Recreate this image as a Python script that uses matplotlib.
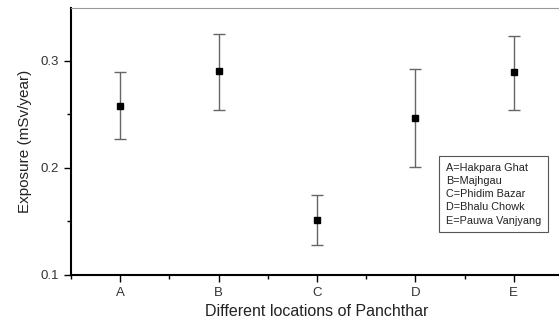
import matplotlib.pyplot as plt
from matplotlib.ticker import MultipleLocator

plt.rcParams['font.family'] = ['Liberation Sans', 'DejaVu Sans']

sites = ['A', 'B', 'C', 'D', 'E']
exposure = [0.258, 0.290, 0.151, 0.246, 0.289]
upper = [0.289, 0.325, 0.175, 0.292, 0.323]
lower = [0.227, 0.254, 0.128, 0.201, 0.254]
legend_lines = ['A=Hakpara Ghat', 'B=Majhgau', 'C=Phidim Bazar',
                'D=Bhalu Chowk', 'E=Pauwa Vanjyang']

x = range(1, len(sites) + 1)
err_lo = [e - l for e, l in zip(exposure, lower)]
err_hi = [u - e for e, u in zip(exposure, upper)]

fig = plt.figure(figsize=(5.59, 3.22), dpi=100)
ax = fig.add_axes([0.127, 0.146, 0.88, 0.829])

ax.errorbar(x, exposure, yerr=[err_lo, err_hi], fmt='s', color='black',
            ms=5, ecolor='#666666', elinewidth=1.0, capsize=4, capthick=1.0)

ax.set_xlim(0.5, 5.5)
ax.set_ylim(0.1, 0.349)
ax.set_xticks(list(x))
ax.set_xticklabels(sites)
ax.xaxis.set_minor_locator(MultipleLocator(0.5))
ax.yaxis.set_major_locator(MultipleLocator(0.1))
ax.yaxis.set_minor_locator(MultipleLocator(0.05))
ax.tick_params(which='major', direction='out', length=5, width=1,
               labelsize=9.5, labelcolor='#333333')
ax.tick_params(which='minor', direction='out', length=3, width=1)

for side in ['left', 'bottom']:
    ax.spines[side].set_linewidth(1.5)
ax.spines['top'].set_color('#999999')
ax.spines['top'].set_linewidth(0.8)
ax.spines['right'].set_visible(False)

ax.set_xlabel('Different locations of Panchthar', fontsize=11.5, color='#222222')
ax.set_ylabel('Exposure (mSv/year)', fontsize=11, color='#222222', labelpad=6)

ax.text(0.762, 0.42, '\n'.join(legend_lines), transform=ax.transAxes,
        fontsize=7.8, va='top', ha='left', linespacing=1.4, color='#222222',
        bbox=dict(boxstyle='square,pad=0.6', fc='white', ec='#555555', lw=0.8))

fig.savefig('out.png', dpi=100)
